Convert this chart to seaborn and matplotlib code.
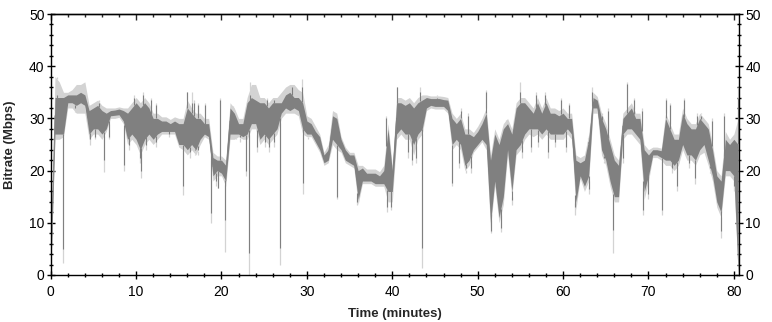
import numpy as np
import pandas as pd
import matplotlib
matplotlib.use("Agg")
import matplotlib.pyplot as plt
import seaborn as sns
from matplotlib.ticker import MultipleLocator

# ---- data (0.5-minute bins) ----
time_min = [i * 0.5 for i in range(162)]

dark_lo = [0, 27, 27, 27, 33, 33, 32.5, 33, 32.5, 27,
           28, 28, 27, 28, 30.5, 30.6, 30.7, 29.5, 26, 27,
           26, 24, 26, 27, 26, 27, 27.5, 27.5, 27.5, 27.5,
           25, 25, 24, 25, 24, 26, 27, 26.5, 19, 20,
           19.5, 18, 27, 27, 27, 26.5, 27, 29, 29, 26,
           27, 26, 27, 28, 31, 32, 31.5, 32, 31.5, 28,
           27, 27, 25.5, 24, 21.5, 22, 26, 25, 24, 22,
           21.5, 21, 14.5, 18, 18, 18, 17.5, 17.5, 17.5, 16,
           16, 27, 28, 27, 27, 25, 27, 28, 32, 32.5,
           32.3, 32.3, 32.3, 31.5, 25, 26, 25, 21, 22, 24,
           25, 26, 25, 10, 18, 11, 15, 24, 16, 24,
           25, 27, 28, 28, 28, 27, 28, 27, 27, 27,
           27, 28, 27, 14, 19, 17, 19, 32, 32, 24,
           22, 18, 15, 15, 27, 28, 28, 27, 26, 16,
           19, 23, 23, 22.5, 22, 22, 21, 22, 25, 23,
           23, 22, 24, 25, 22, 19, 14, 12, 20, 20,
           19, 0]
dark_hi = [2, 34, 34, 34, 34.5, 34.5, 34.5, 35, 34.5, 31.5,
           32, 32.5, 31.5, 31, 31.5, 31.6, 31.8, 31.5, 31, 32,
           33, 32, 33, 32, 30, 30, 29.5, 29.5, 29, 29.5,
           29, 29, 32, 31, 30, 30, 29, 29, 22.5, 22,
           22, 21, 32, 31, 29, 29, 33, 34, 33.5, 33,
           33, 32, 33, 33, 33, 34.5, 35, 34, 34, 33,
           29.5, 29, 27.5, 26.5, 23, 24, 30.5, 30, 26, 24,
           23, 23, 20, 20.5, 19.5, 19.5, 19.5, 19, 20, 28,
           20, 33, 33, 32.5, 33, 32, 33, 33.5, 34, 33.8,
           33.8, 33.8, 33.6, 33.5, 30, 29, 30, 27, 27, 26.5,
           27.5, 29, 31, 22, 27, 25, 28, 29, 27, 32,
           33, 33, 32, 31, 33, 31, 33, 31, 31, 30.5,
           31, 30, 30, 22, 21.5, 22, 26, 34, 33.5, 30,
           28, 25, 22, 21, 30, 31, 32, 30, 30, 24,
           23, 24, 24, 23.8, 30, 28, 26, 26, 31, 29,
           28, 28, 30, 29, 28, 24, 19, 18, 26, 25,
           26, 25]
light_lo = [0, 26, 26, 26.5, 32, 32, 31, 31, 31, 26,
            27, 27, 26, 27.5, 30, 30, 30.2, 29, 25, 26,
            25, 23, 25, 26, 25, 26, 27, 27, 27, 27,
            24.5, 24, 23, 24, 23, 25, 26.5, 26, 18, 19,
            19, 17, 26, 26, 26.5, 26, 26, 28, 28, 25,
            26, 25, 26, 27, 30, 31, 31, 31, 30.5, 27,
            26.5, 26.5, 25, 23.5, 21, 21.5, 25, 24, 23.5, 21.5,
            21, 20.5, 13.5, 17.5, 17.5, 17.5, 17, 17, 17, 14,
            14, 26, 27, 26, 26, 23, 26, 27, 31.5, 32,
            31.8, 31.8, 31.8, 31, 24, 25, 24, 20, 21, 23.5,
            24.5, 25.5, 24, 9, 17, 10, 13.5, 23, 15, 23,
            24, 26, 27, 26.5, 27, 26, 27, 26, 26, 26,
            26, 27, 26, 12.5, 18.5, 16, 18, 31, 31, 23,
            21, 17, 14, 14, 26, 27, 27, 26, 25, 14.5,
            18, 22.5, 22.5, 22, 21, 21, 20, 21, 24, 22,
            22, 21, 23, 23.5, 21, 18, 13, 11, 19, 19,
            18, 0]
light_hi = [2, 38, 37, 35, 35, 35.5, 36.5, 36.5, 37, 32.5,
            33, 33.5, 32.5, 32, 32, 32, 32.2, 32, 32, 33,
            34, 33, 34, 33, 31, 31, 30.3, 30.3, 29.8, 30.3,
            30, 30, 33.5, 32, 31, 31, 30, 30, 23.5, 22.8,
            22.8, 22, 33, 32, 30, 30, 34, 36.5, 36.5, 34,
            34, 33, 34, 34, 35, 36, 36.5, 36.5, 35.5, 35,
            30.5, 30, 28.5, 27, 23.5, 25, 31.5, 31, 26.5, 24.5,
            23.5, 23.5, 21, 21, 20.3, 20.3, 20.3, 19.8, 21, 29,
            21, 34, 34, 33.5, 34, 33, 34, 34.5, 34.5, 34.3,
            34.3, 34.3, 34.2, 34, 31, 30, 31, 28, 28, 27.3,
            28.5, 30, 32, 23, 28, 26, 29, 30, 28, 33,
            34, 34, 33, 32, 34, 32, 34, 32, 32, 31.5,
            32, 31, 31, 23, 22.5, 23, 27, 35, 34.2, 31,
            29, 26, 23, 22, 31, 32, 33, 31, 31, 25,
            24, 24.5, 24.5, 24.3, 31, 29, 27, 27, 32, 30,
            29, 29, 31, 30, 29, 25, 20, 19, 27.5, 26,
            27, 30]

# narrow single-sample drops: time, dark minimum, light minimum
drop_time = [1.45, 2.9, 4.6, 5.2, 6.2, 6.8, 8.6, 9.2, 10.4, 10.6,
             11.2, 12.3, 13.9, 15.55, 16.3, 16.9, 17.2, 18.75, 19.3, 19.6,
             20.45, 21.7, 22.2, 22.9, 23.2, 24.2, 25.1, 25.6, 26.1, 26.85,
             29.5, 30.1, 33.55, 35.9, 39.4, 39.8, 41.8, 42.3, 42.8, 43.5,
             47.0, 47.8, 48.6, 49.2, 51.6, 52.7, 54.0, 55.2, 56.2, 57.1,
             58.2, 59.1, 60.3, 61.45, 63.0, 64.8, 65.9, 67.0, 69.4, 70.0,
             71.6, 72.7, 73.3, 74.8, 75.5, 77.2, 78.45, 80.0, 80.55]
drop_dark = [5, 32, 26, 26.5, 22, 26.5, 21, 25, 22.5, 20,
             25, 25.5, 27, 17, 23.5, 24, 24, 11.8, 18, 16.6,
             10.5, 27, 26.5, 20, 4.2, 24.5, 25.5, 24.5, 25.5, 5.2,
             17.6, 27, 15, 14, 13, 13, 23.5, 22, 22.5, 5.2,
             17.6, 21.5, 20.5, 20.5, 8.5, 9, 14.4, 23.5, 24.5, 25.5,
             23.5, 25.5, 24.5, 13, 16.5, 22.5, 8.7, 22.5, 12.5, 15.5,
             12.5, 20.5, 17, 21.5, 18.5, 20.5, 8.5, 17, 0.5]
drop_light = [2.3, 31.5, 25, 26, 19.7, 26, 20, 24, 21.5, 18.5,
              24, 24.5, 26.5, 15.3, 22.5, 23, 23, 10, 17, 16.6,
              4.5, 26, 25.5, 19, 0, 23.5, 24.5, 23.5, 24.5, 2,
              15.6, 26, 14.5, 13.5, 12, 12.5, 22.5, 21, 21.5, 1.3,
              17, 20.5, 19.5, 19.5, 8, 8.3, 13.5, 22.5, 23.5, 24.5,
              22.5, 24.5, 23.5, 11.5, 15.5, 21.5, 4.2, 21.5, 11.5, 14.5,
              11.5, 19.5, 16, 20.5, 17.5, 19.5, 7, 16, 0]
# narrow single-sample peaks: time, dark maximum, light maximum
peak_time = [0.7, 5.7, 9.8, 10.8, 11.8, 12.3, 16.0, 16.5, 16.8, 17.3,
             18.1, 19.8, 21.3, 23.3, 24.7, 25.3, 26.2, 28.3, 29.4, 39.3,
             40.5, 43.3, 45.2, 48.0, 48.9, 51.0, 53.3, 55.0, 56.8, 57.9,
             59.8, 60.7, 62.9, 63.4, 64.6, 65.3, 67.5, 68.3, 69.2, 72.0,
             72.5, 74.2, 75.7, 76.1, 77.4, 78.8, 80.45]
peak_dark = [34.5, 33, 34, 34.5, 33.5, 32.5, 35, 33, 33, 32.5,
             32.5, 33.5, 31.5, 34.5, 33, 33.5, 33.5, 36, 36, 30,
             36, 35, 34, 31.5, 30.5, 35, 28.5, 35, 34.5, 34.5,
             33.5, 32.5, 25.5, 35, 30.5, 31.5, 36.5, 33.5, 31.5, 33.5,
             32.5, 33.5, 30.5, 30.5, 29.5, 30.5, 34]
peak_light = [38, 33.5, 34.5, 35, 34, 33, 35, 35, 33.5, 33,
              33, 34, 32, 37, 33.5, 34, 34, 36.5, 37.5, 30.5,
              36, 36, 34.5, 32, 31, 35.5, 29, 37, 35, 35,
              34, 33, 26, 36, 31, 32, 37, 34, 32, 34,
              33, 34, 31, 31, 30, 31, 36]

x_ticks = [0, 10, 20, 30, 40, 50, 60, 70, 80]
y_ticks = [0, 10, 20, 30, 40, 50]

DARK = "#808080"
LIGHT = "#d3d3d3"

# ---- figure ----
sns.set_style("white")
plt.rcParams["font.family"] = ["Liberation Sans", "DejaVu Sans"]

fig = plt.figure(figsize=(7.72, 3.22), dpi=100)
ax = fig.add_axes([50.7 / 772, 1 - 275 / 322, (739 - 50.7) / 772, 261 / 322])

t = np.array(time_min)
light_df = pd.DataFrame({"t": np.concatenate([t, t]),
                         "v": np.concatenate([light_lo, light_hi])})
dark_df = pd.DataFrame({"t": np.concatenate([t, t]),
                        "v": np.concatenate([dark_lo, dark_hi])})

sns.lineplot(data=light_df, x="t", y="v", estimator="mean", errorbar=("pi", 100),
             color=LIGHT, lw=0, err_kws={"alpha": 1, "linewidth": 0}, ax=ax)
ax.vlines(drop_time, drop_light, np.interp(drop_time, t, light_lo), color=LIGHT, lw=0.9)
ax.vlines(peak_time, np.interp(peak_time, t, light_hi), peak_light, color=LIGHT, lw=0.9)

sns.lineplot(data=dark_df, x="t", y="v", estimator="mean", errorbar=("pi", 100),
             color=DARK, lw=0.6, err_kws={"alpha": 1, "linewidth": 0}, ax=ax)
ax.vlines(drop_time, drop_dark, np.interp(drop_time, t, dark_lo), color=DARK, lw=0.8)
ax.vlines(peak_time, np.interp(peak_time, t, dark_hi), peak_dark, color=DARK, lw=0.8)

ax.set_xlim(0, 80.6)
ax.set_ylim(0, 50)
ax.set_xticks(x_ticks)
ax.set_yticks(y_ticks)
ax.xaxis.set_minor_locator(MultipleLocator(2))
ax.yaxis.set_minor_locator(MultipleLocator(2))

for s in ax.spines.values():
    s.set_visible(True)
    s.set_color("black")
    s.set_linewidth(1.0)

ax.tick_params(which="major", direction="inout", length=6, width=1, colors="black",
               labelsize=10, left=True, right=True, bottom=True, top=False,
               labelright=True, labelleft=True)
ax.tick_params(which="minor", direction="inout", length=3.5, width=1, colors="black",
               left=True, right=True, bottom=True, top=False)
ax.tick_params(axis="y", which="major", pad=1.5)
ax.tick_params(axis="x", which="major", pad=4)

top = ax.secondary_xaxis("top")
top.set_xticks(x_ticks)
top.xaxis.set_minor_locator(MultipleLocator(2))
top.tick_params(which="major", direction="in", length=4.5, width=1, labeltop=False)
top.tick_params(which="minor", direction="in", length=2.5, width=1)
top.spines["top"].set_linewidth(1.0)

ax.set_xlabel("Time (minutes)", fontsize=9.5, fontweight="bold")
ax.set_ylabel("Bitrate (Mbps)", fontsize=9.5, fontweight="bold")
ax.xaxis.set_label_coords(0.5, -0.125)
ax.yaxis.set_label_coords(-0.05, 0.5)

fig.savefig("out.png", dpi=100)
